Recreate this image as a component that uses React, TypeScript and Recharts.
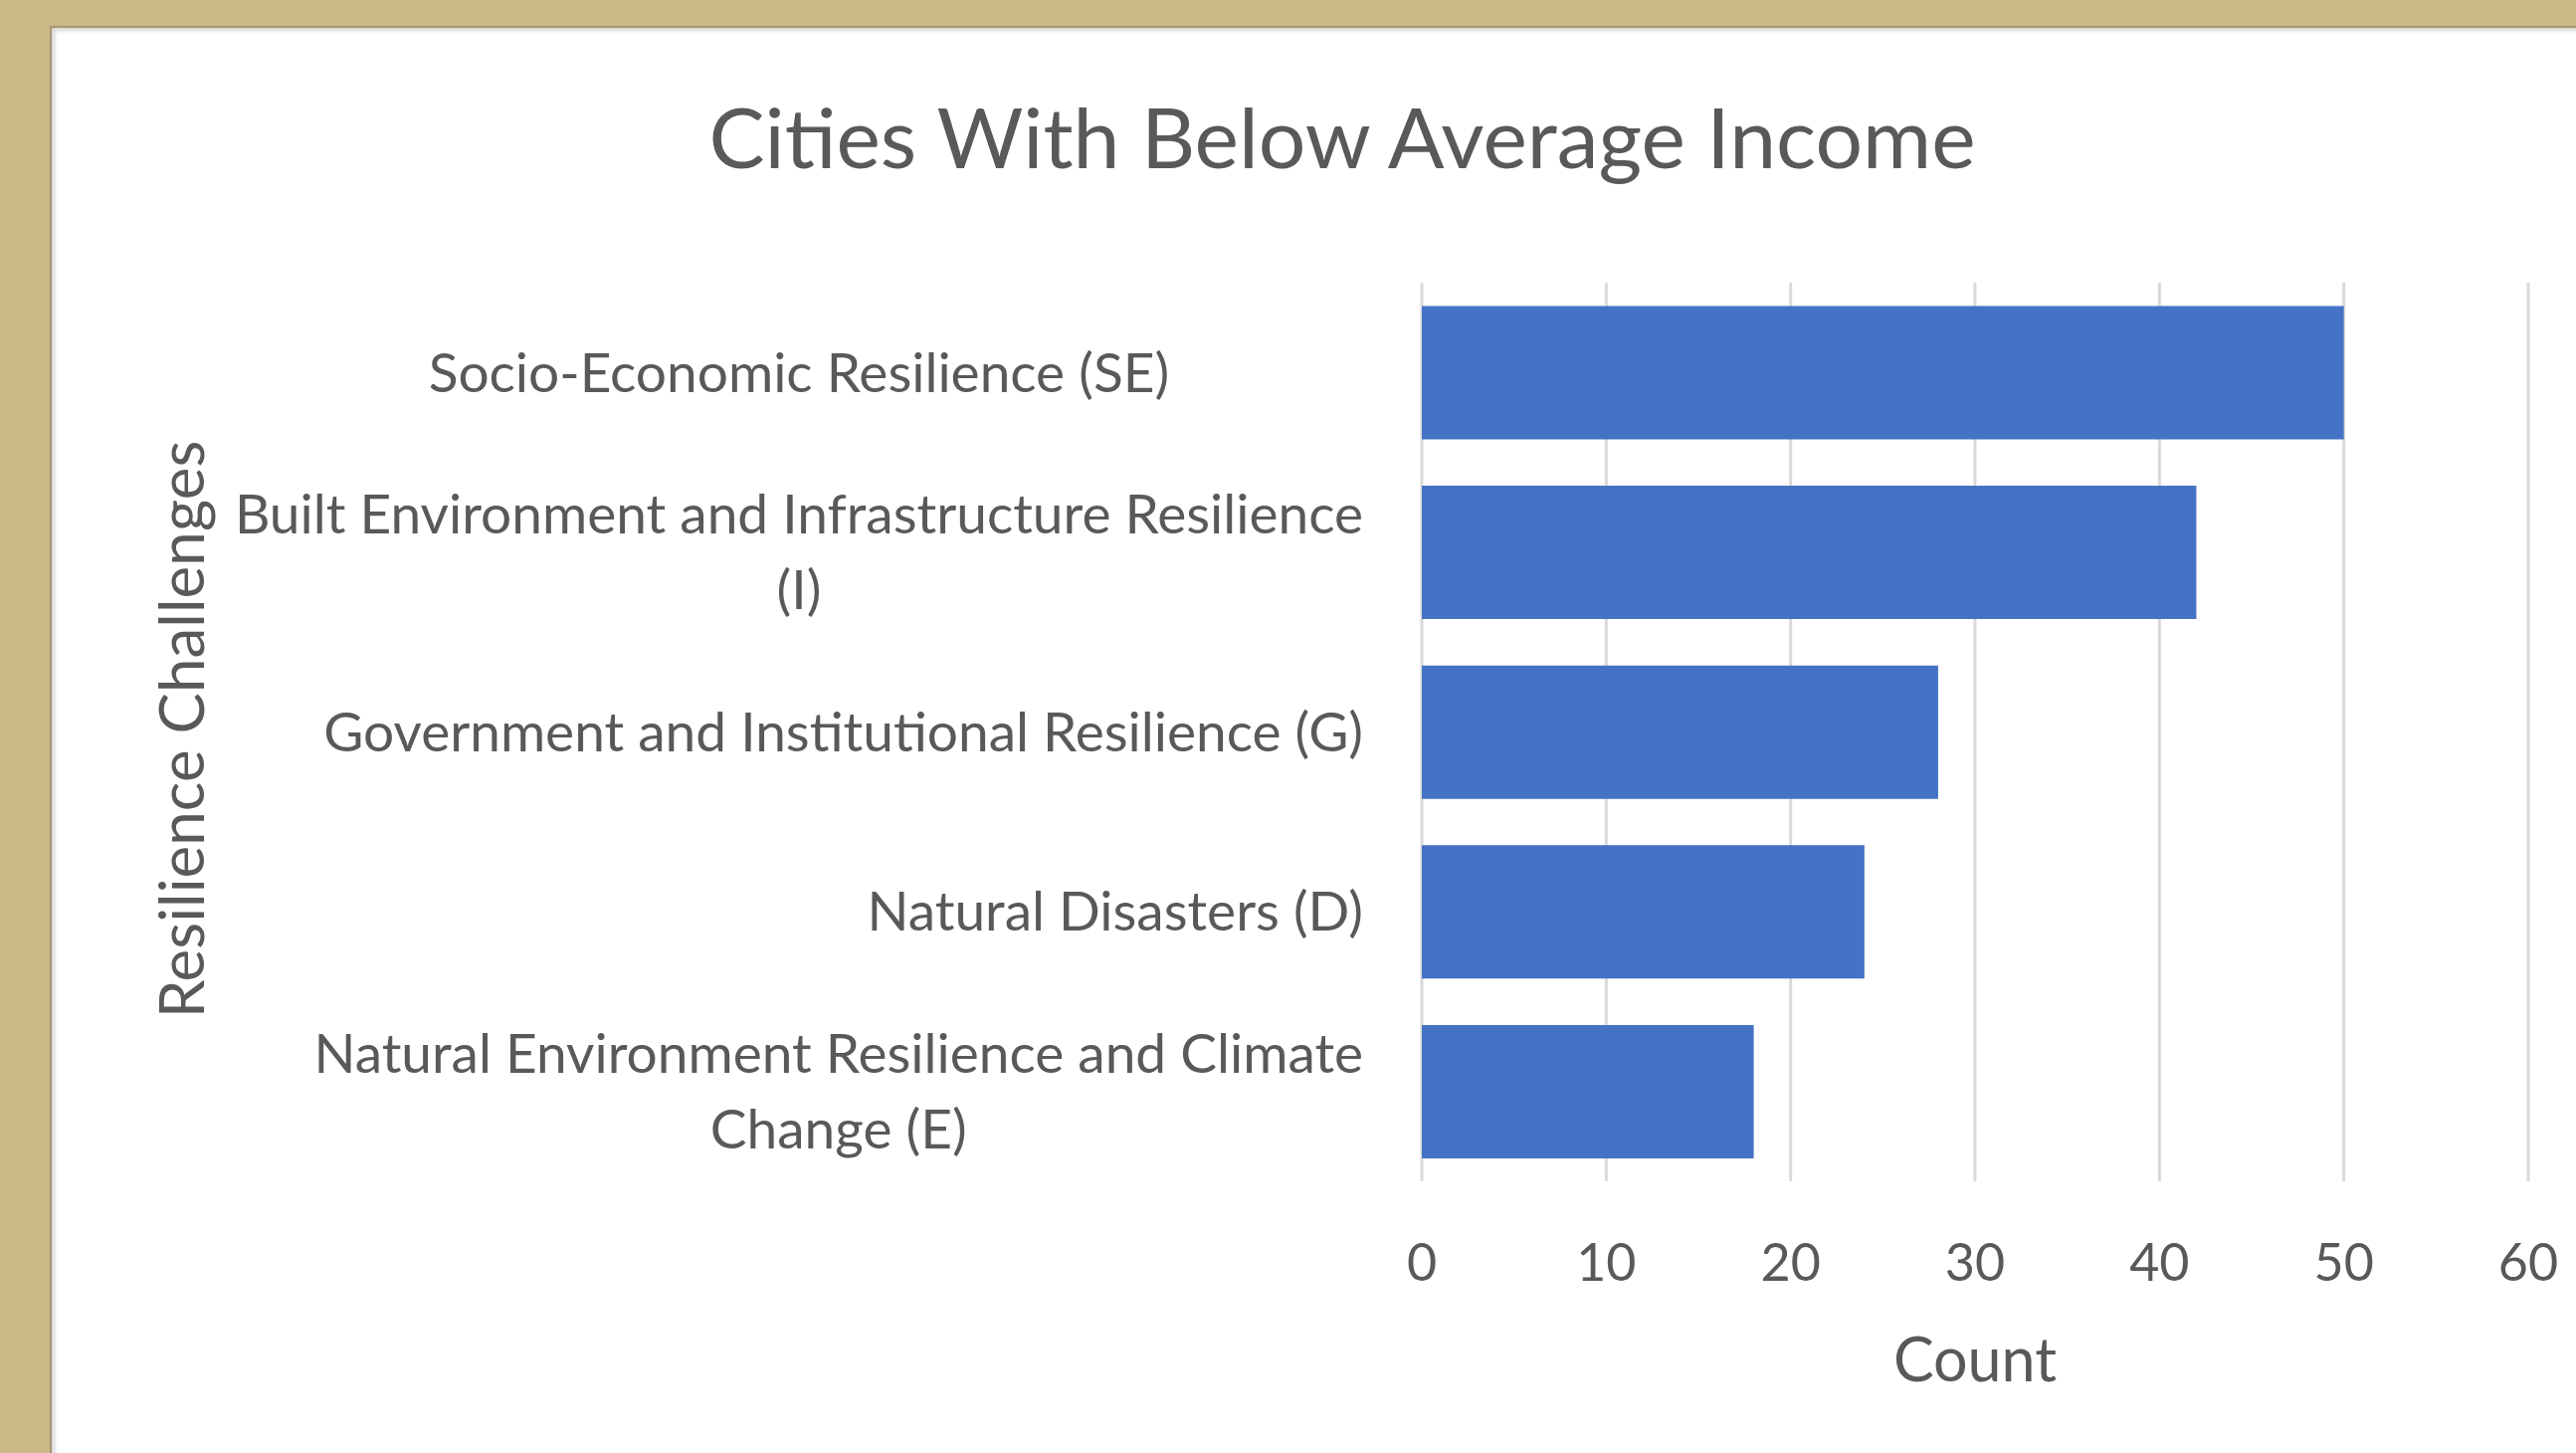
import React from 'react';
import { BarChart, Bar, XAxis, YAxis, CartesianGrid, Label } from 'recharts';

const categories = [
  'Socio-Economic Resilience (SE)',
  'Built Environment and Infrastructure Resilience (I)',
  'Government and Institutional Resilience (G)',
  'Natural Disasters (D)',
  'Natural Environment Resilience and Climate Change (E)',
];

const counts = [50, 42, 28, 24, 18];

const countTicks = [0, 10, 20, 30, 40, 50, 60];

// how the long labels wrap, as in the source
const labelLines: Record<string, string[]> = {
  'Built Environment and Infrastructure Resilience (I)': ['Built Environment and Infrastructure Resilience', '(I)'],
  'Natural Environment Resilience and Climate Change (E)': ['Natural Environment Resilience and Climate', 'Change (E)'],
};

const data = categories.map((name, i) => ({ name, count: counts[i] }));

const W = 2589;
const H = 1460;
const FONT = 'Lato, "Open Sans", sans-serif';
const TEXT = '#595959';
const LABEL_SIZE = 55;
const LINE_GAP = 76;

let ctx: CanvasRenderingContext2D | null = null;
const measure = (s: string) => {
  if (!ctx) ctx = document.createElement('canvas').getContext('2d');
  if (!ctx) return s.length * LABEL_SIZE * 0.48;
  ctx.font = `${LABEL_SIZE}px Lato`;
  return ctx.measureText(s).width;
};

const CategoryTick = (props: any) => {
  const { x, y, payload } = props;
  const right = x - 59;
  const lines = labelLines[payload.value] || [payload.value];
  if (lines.length === 1) {
    // the first label sits centred in the widest label box
    const anchorMid = payload.value === categories[0];
    const widest = Math.max(...categories.map((c) => measure((labelLines[c] || [c])[0])));
    return (
      <text
        x={anchorMid ? right - widest / 2 : right}
        y={y}
        dy="0.35em"
        textAnchor={anchorMid ? 'middle' : 'end'}
        fill={TEXT}
        fontSize={LABEL_SIZE}
        fontFamily={FONT}
      >
        {payload.value}
      </text>
    );
  }
  const block = Math.max(...lines.map(measure));
  const cx = right - block / 2;
  return (
    <g>
      {lines.map((l, i) => (
        <text
          key={i}
          x={cx}
          y={y + (i - (lines.length - 1) / 2) * LINE_GAP}
          dy="0.35em"
          textAnchor="middle"
          fill={TEXT}
          fontSize={LABEL_SIZE}
          fontFamily={FONT}
        >
          {l}
        </text>
      ))}
    </g>
  );
};

export default function App() {
  return (
    <div style={{ position: 'absolute', left: 0, top: 0, width: W, height: H, background: '#CDB888', overflow: 'hidden' }}>
      {/* white sheet with its dark edge and soft inner shadow */}
      <div
        style={{
          position: 'absolute',
          left: 50,
          top: 26,
          right: 0,
          bottom: 0,
          background: '#fff',
          borderLeft: '2px solid #A8976F',
          borderTop: '2px solid #A8976F',
          boxShadow: 'inset 5px 5px 4px -2px #D6D6D6',
        }}
      />
      <div
        style={{
          position: 'absolute',
          left: 0,
          top: 95,
          width: 2698,
          textAlign: 'center',
          fontFamily: FONT,
          fontSize: 84,
          lineHeight: '84px',
          color: TEXT,
        }}
      >
        Cities With Below Average Income
      </div>
      <div style={{ position: 'absolute', left: 0, top: 0 }}>
        <BarChart
          width={W}
          height={H}
          data={data}
          layout="vertical"
          margin={{ top: 284, right: 48, bottom: 0, left: 0 }}
          barCategoryGap="13%"
        >
          <CartesianGrid horizontal={false} stroke="#D9D9D9" strokeWidth={3} />
          <XAxis
            type="number"
            domain={[0, 60]}
            ticks={countTicks}
            height={273}
            axisLine={false}
            tickLine={false}
            tickSize={0}
            tickMargin={63}
            tick={{ fill: TEXT, fontSize: 52, fontFamily: FONT }}
          >
            <Label
              content={(p: any) => (
                <text
                  x={p.viewBox.x + p.viewBox.width / 2}
                  y={1388}
                  textAnchor="middle"
                  fill={TEXT}
                  fontSize={61}
                  fontFamily={FONT}
                >
                  Count
                </text>
              )}
            />
          </XAxis>
          <YAxis
            type="category"
            dataKey="name"
            width={1429}
            axisLine={false}
            tickLine={false}
            tickSize={0}
            tickMargin={0}
            tick={<CategoryTick />}
            interval={0}
          >
            <Label
              content={() => (
                <text
                  x={205}
                  y={733}
                  transform="rotate(-90 205 733)"
                  textAnchor="middle"
                  fill={TEXT}
                  fontSize={62}
                  fontFamily={FONT}
                >
                  Resilience Challenges
                </text>
              )}
            />
          </YAxis>
          <Bar dataKey="count" fill="#4472C4" isAnimationActive={false} />
        </BarChart>
      </div>
    </div>
  );
}
